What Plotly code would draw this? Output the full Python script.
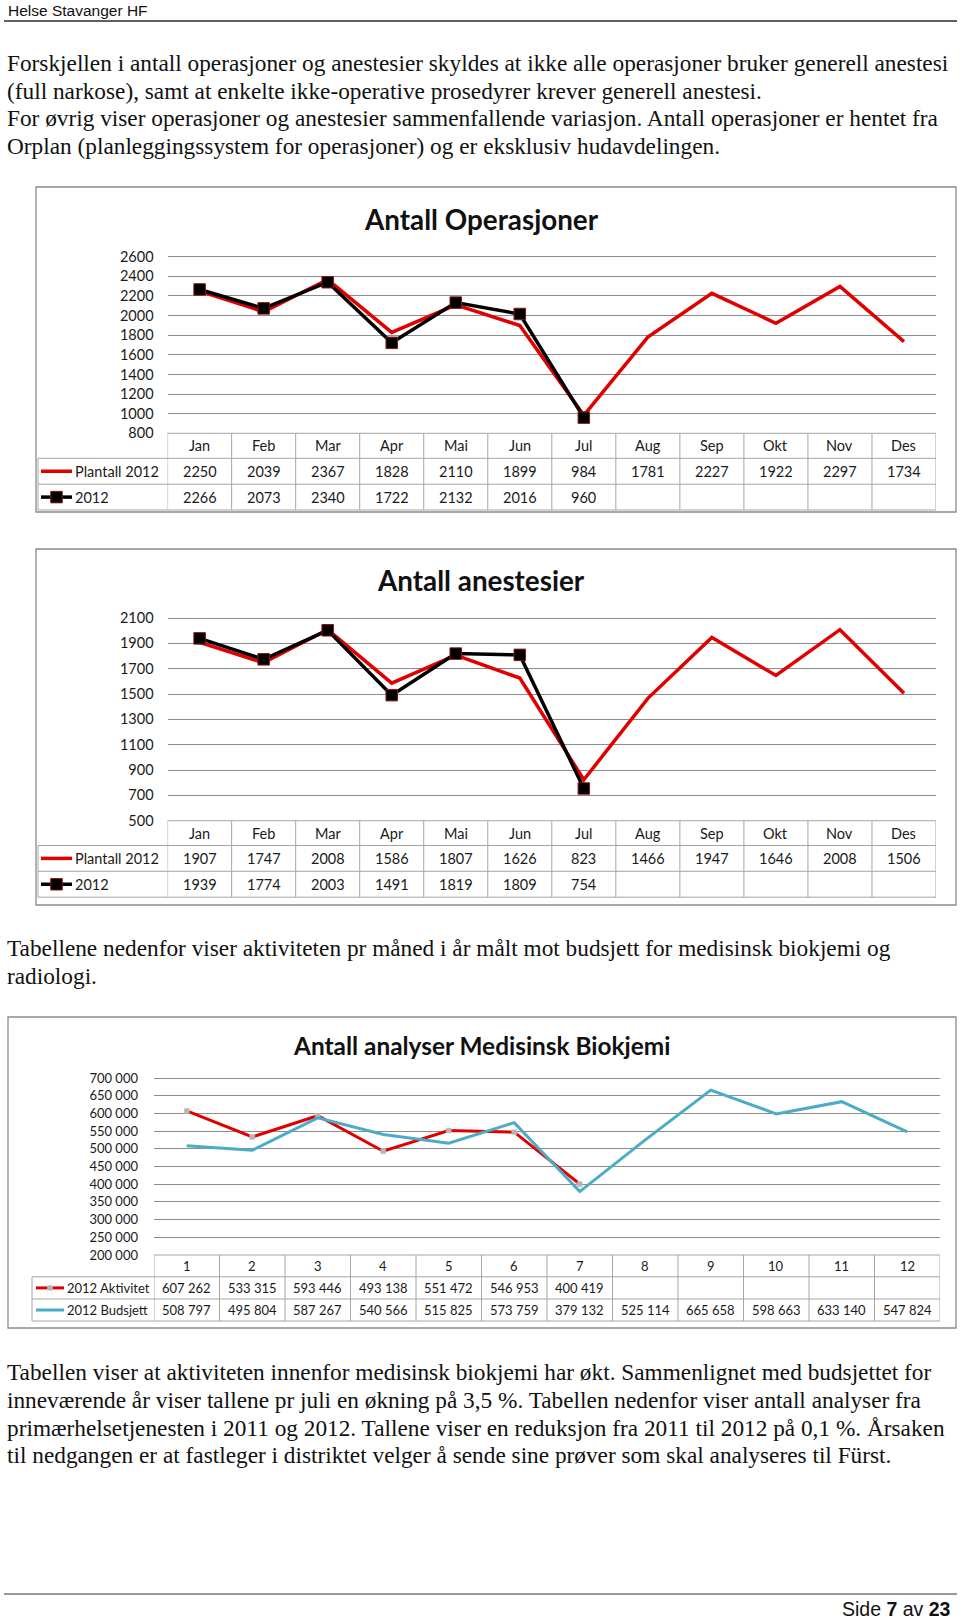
import plotly.graph_objects as go

W, H = 960, 1622

# ---------------- data ----------------
months = ["Jan", "Feb", "Mar", "Apr", "Mai", "Jun", "Jul", "Aug", "Sep", "Okt", "Nov", "Des"]
op_names = ["Plantall 2012", "2012"]
op_plan = [2250, 2039, 2367, 1828, 2110, 1899, 984, 1781, 2227, 1922, 2297, 1734]
op_actual = [2266, 2073, 2340, 1722, 2132, 2016, 960]
op_ticks = [800, 1000, 1200, 1400, 1600, 1800, 2000, 2200, 2400, 2600]

an_names = ["Plantall 2012", "2012"]
an_plan = [1907, 1747, 2008, 1586, 1807, 1626, 823, 1466, 1947, 1646, 2008, 1506]
an_actual = [1939, 1774, 2003, 1491, 1819, 1809, 754]
an_ticks = [500, 700, 900, 1100, 1300, 1500, 1700, 1900, 2100]

bio_months = ["1", "2", "3", "4", "5", "6", "7", "8", "9", "10", "11", "12"]
bio_names = ["2012 Aktivitet", "2012 Budsjett"]
bio_akt = [607262, 533315, 593446, 493138, 551472, 546953, 400419]
bio_bud = [508797, 495804, 587267, 540566, 515825, 573759, 379132, 525114, 665658, 598663, 633140, 547824]
bio_ticks = [200000, 250000, 300000, 350000, 400000, 450000, 500000, 550000, 600000, 650000, 700000]

header_text = "Helse Stavanger HF"
footer_text = "Side <b>7</b> av <b>23</b>"
para1 = [
    "Forskjellen i antall operasjoner og anestesier skyldes at ikke alle operasjoner bruker generell anestesi",
    "(full narkose), samt at enkelte ikke-operative prosedyrer krever generell anestesi.",
    "For øvrig viser operasjoner og anestesier sammenfallende variasjon. Antall operasjoner er hentet fra",
    "Orplan (planleggingssystem for operasjoner) og er eksklusiv hudavdelingen.",
]
para2 = [
    "Tabellene nedenfor viser aktiviteten pr måned i år målt mot budsjett for medisinsk biokjemi og",
    "radiologi.",
]
para3 = [
    "Tabellen viser at aktiviteten innenfor medisinsk biokjemi har økt. Sammenlignet med budsjettet for",
    "inneværende år viser tallene pr juli en økning på 3,5 %. Tabellen nedenfor viser antall analyser fra",
    "primærhelsetjenesten i 2011 og 2012. Tallene viser en reduksjon fra 2011 til 2012 på 0,1 %. Årsaken",
    "til nedgangen er at fastleger i distriktet velger å sende sine prøver som skal analyseres til Fürst.",
]


def X(p):
    return p / W


def Y(p):
    return 1 - p / H


def spaced(v):
    return f"{v:,}".replace(",", " ")


RED = "#e00000"
BLUE = "#4bacc6"
GRID = "#8c8c8c"
TBL = "#a6a6a6"
SERIF = "Liberation Serif"
SANS = "Lato"
PAD = 3  # extra px above top gridline so it is drawn inside the plot area

fig = go.Figure()
shapes = []
annos = []


def add_chart(k, cats, series, ticks, ticktext, box, px_x, px_y, title, title_y, title_size,
              rows, leg_x0, key_x, text_x, fsize, fmt, standoff):
    xa = "x" if k == 1 else f"x{k}"
    ya = "y" if k == 1 else f"y{k}"
    for s in series:
        fig.add_trace(go.Scatter(
            x=list(range(len(s["y"]))), y=s["y"], mode=s["mode"], name=s["name"],
            line=dict(color=s["color"], width=s["width"]),
            marker=s.get("marker", None), xaxis=xa, yaxis=ya,
            hoverinfo="skip", cliponaxis=False))
    n = len(cats)
    span = ticks[-1] - ticks[0]
    fig.update_layout(**{
        ("xaxis" if k == 1 else f"xaxis{k}"): dict(
            domain=[X(px_x[0]), X(px_x[1])], range=[-0.5, n - 0.5],
            showticklabels=False, showgrid=False, zeroline=False, showline=False,
            anchor=ya, fixedrange=True),
        ("yaxis" if k == 1 else f"yaxis{k}"): dict(
            domain=[Y(px_y[1]), Y(px_y[0] - PAD)],
            range=[ticks[0], ticks[-1] + span * PAD / (px_y[1] - px_y[0])],
            tickvals=ticks, ticktext=ticktext, showgrid=True, gridcolor=GRID,
            gridwidth=1.4, zeroline=False, showline=False, ticks="",
            ticklabelstandoff=standoff, anchor=xa, fixedrange=True,
            tickfont=dict(family=SANS, size=fsize, color="#1a1a1a")),
    })
    # chart box
    shapes.append(dict(type="rect", xref="paper", yref="paper",
                       x0=X(box[0]), x1=X(box[2]), y0=Y(box[3]), y1=Y(box[1]),
                       line=dict(color="#8c8c8c", width=1.3)))
    # title
    annos.append(dict(text=f"<b>{title}</b>", xref="paper", yref="paper",
                      x=X(481), y=Y(title_y), xanchor="center", yanchor="middle",
                      showarrow=False, font=dict(family=SANS, size=title_size, color="#111")))
    # table lines
    shapes.append(dict(type="line", xref="paper", yref="paper", x0=X(px_x[0]), x1=X(px_x[1]),
                       y0=Y(rows[0]), y1=Y(rows[0]), line=dict(color=TBL, width=1)))
    for r in rows[1:]:
        shapes.append(dict(type="line", xref="paper", yref="paper", x0=X(leg_x0), x1=X(px_x[1]),
                           y0=Y(r), y1=Y(r), line=dict(color=TBL, width=1)))
    for i in range(n + 1):
        shapes.append(dict(type="line", xref=xa, yref="paper", x0=i - 0.5, x1=i - 0.5,
                           y0=Y(rows[0]), y1=Y(rows[3]), line=dict(color=TBL, width=1)))
    shapes.append(dict(type="line", xref="paper", yref="paper", x0=X(leg_x0), x1=X(leg_x0),
                       y0=Y(rows[1]), y1=Y(rows[3]), line=dict(color=TBL, width=1)))
    cy = [(rows[j] + rows[j + 1]) / 2 for j in range(3)]
    tf = dict(family=SANS, size=fsize, color="#1a1a1a")
    for i, c in enumerate(cats):
        annos.append(dict(text=c, xref=xa, yref="paper", x=i, y=Y(cy[0]),
                          xanchor="center", yanchor="middle", showarrow=False, font=tf))
    for j, s in enumerate(series):
        for i, v in enumerate(s["y"]):
            annos.append(dict(text=fmt(v), xref=xa, yref="paper", x=i, y=Y(cy[j + 1]),
                              xanchor="center", yanchor="middle", showarrow=False, font=tf))
        annos.append(dict(text=s["name"], xref="paper", yref="paper", x=X(text_x), y=Y(cy[j + 1]),
                          xanchor="left", yanchor="middle", showarrow=False, font=tf))
        shapes.append(dict(type="line", xref="paper", yref="paper", x0=X(key_x[0]), x1=X(key_x[1]),
                           y0=Y(cy[j + 1]), y1=Y(cy[j + 1]),
                           line=dict(color=s["color"], width=s["width"])))
        if s.get("marker"):
            m = s["marker"]
            half = m["size"] / 2
            mx = (key_x[0] + key_x[1]) / 2
            shapes.append(dict(type="rect", xref="paper", yref="paper",
                               x0=X(mx - half), x1=X(mx + half),
                               y0=Y(cy[j + 1] + half), y1=Y(cy[j + 1] - half),
                               fillcolor=m["color"],
                               line=dict(color=m["line"]["color"], width=m["line"]["width"])))


sq_black = dict(symbol="square", size=11.5, color="black", line=dict(color="#8a1515", width=1))
sq_gray = dict(symbol="square", size=5, color="#b5b5b5", line=dict(color="#c8c8c8", width=0.5))

add_chart(1, months,
          [dict(name=op_names[0], y=op_plan, mode="lines", color=RED, width=3.5),
           dict(name=op_names[1], y=op_actual, mode="lines+markers", color="black", width=3.5,
                marker=sq_black)],
          op_ticks, [str(t) for t in op_ticks], (36, 187, 956, 512), (167.6, 936), (256.7, 433.3),
          "Antall Operasjoner", 219, 27.8, [433.3, 458.3, 484.2, 510], 38, (41, 72), 73, 14.5,
          lambda v: str(v), 13)

add_chart(2, months,
          [dict(name=an_names[0], y=an_plan, mode="lines", color=RED, width=3.5),
           dict(name=an_names[1], y=an_actual, mode="lines+markers", color="black", width=3.5,
                marker=sq_black)],
          an_ticks, [str(t) for t in an_ticks], (36, 549, 956, 905), (167.6, 936), (618, 820.7),
          "Antall anestesier", 580, 27.8, [820.7, 845.5, 871.3, 897.2], 38, (41, 72), 73, 14.5,
          lambda v: str(v), 13)

add_chart(3, bio_months,
          [dict(name=bio_names[0], y=bio_akt, mode="lines+markers", color=RED, width=3,
                marker=sq_gray),
           dict(name=bio_names[1], y=bio_bud, mode="lines", color=BLUE, width=3)],
          bio_ticks, [spaced(t) for t in bio_ticks], (8, 1017, 956, 1328), (154, 940), (1078, 1255),
          "Antall analyser Medisinsk Biokjemi", 1045, 24.4, [1255, 1276.8, 1299, 1321], 32, (36, 64), 65,
          13, spaced, 15)

# header / footer
annos.append(dict(text=header_text, xref="paper", yref="paper", x=X(6), y=Y(10),
                  xanchor="left", yanchor="middle", showarrow=False,
                  font=dict(family="Liberation Sans", size=15.5, color="#111")))
shapes.append(dict(type="line", xref="paper", yref="paper", x0=X(4), x1=X(957), y0=Y(21), y1=Y(21),
                   line=dict(color="#606060", width=2)))
shapes.append(dict(type="line", xref="paper", yref="paper", x0=X(4), x1=X(957), y0=Y(1594), y1=Y(1594),
                   line=dict(color="#333333", width=1.2)))
annos.append(dict(text=footer_text, xref="paper", yref="paper", x=X(953), y=0,
                  xanchor="right", yanchor="bottom", showarrow=False,
                  font=dict(family="Liberation Sans", size=19.5, color="#111")))

pf = dict(family=SERIF, size=23.3, color="#111")
for lines, ys in ((para1, [63, 91, 118, 146]), (para2, [947.6, 975.5]),
                  (para3, [1372, 1400, 1427.5, 1454.5])):
    for t, yy in zip(lines, ys):
        annos.append(dict(text=t, xref="paper", yref="paper", x=X(5), y=Y(yy),
                          xanchor="left", yanchor="middle", showarrow=False, font=pf))

fig.update_layout(width=W, height=H,
                  margin=dict(l=0, r=0, t=0, b=0, pad=0, autoexpand=False),
                  paper_bgcolor="white", plot_bgcolor="white", showlegend=False,
                  shapes=shapes, annotations=annos)

fig.write_html("out.html", post_script="document.body.style.margin='0px';")
